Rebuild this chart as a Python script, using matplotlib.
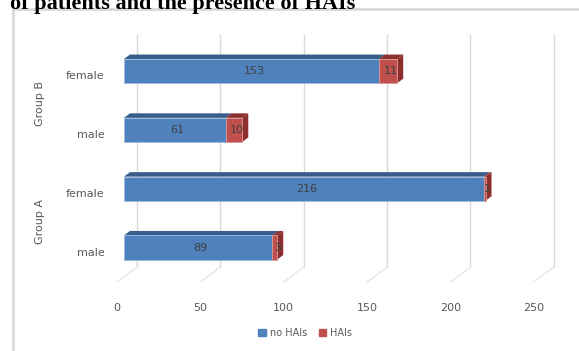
import numpy as np
import matplotlib
matplotlib.use("Agg")
import matplotlib.pyplot as plt
from matplotlib.patches import Polygon, Rectangle, Patch

# data (bottom to top, as drawn)
categories = ["male", "female", "male", "female"]
groups = ["Group A", "Group B"]
no_hai = [89, 216, 61, 153]
hai = [3, 1, 10, 11]
series = ["no HAIs", "HAIs"]
xticks = [0, 50, 100, 150, 200, 250]

BLUE, BLUE_D = "#4f81bd", "#385d8a"
RED, RED_D = "#c0504d", "#8c2f2d"
GRID = "#d9d9d9"
TXT = "#595959"

# fake 3D: depth 0 = front floor edge, 1 = back wall; bars sit at 0.35..0.65
DX, DY = 12.0, 0.255
D_BAR0, D_BAR1 = 0.35, 0.65
H = 0.205
FLOOR, TOP = -0.5, 3.45


def P(v, i, d):
    return (v + (d - D_BAR0) * DX, i + (d - D_BAR0) * DY)


fig = plt.figure(figsize=(5.79, 3.51), dpi=100)
ax = fig.add_axes([0, 0, 1, 1])
ax.set_xlim(-74.4, 273.1)
ax.set_ylim(-1.760, 4.209)
ax.axis("off")

# back wall gridlines + floor diagonals
for t in xticks:
    x0, y0 = P(t, FLOOR, 1)
    x1, y1 = P(t, TOP, 1)
    ax.plot([x0, x1], [y0, y1], color=GRID, lw=1, zorder=1)
    xa, ya = P(t, FLOOR, 0)
    ax.plot([xa, x0], [ya, y0], color="#e6e6e6", lw=1, zorder=1)
    ax.text(xa, ya - 0.44, str(t), ha="center", va="center",
            fontsize=8, color=TXT)

y = np.arange(len(categories))
ax.barh(y, no_hai, height=2 * H, color=BLUE, edgecolor="#9dbbe0",
        linewidth=0.6, zorder=3, label=series[0])
ax.barh(y, hai, left=no_hai, height=2 * H, color=RED, edgecolor="#d99694",
        linewidth=0.6, zorder=3, label=series[1])

for i, (a, b) in enumerate(zip(no_hai, hai)):
    for x0, x1, c in [(0, a, BLUE_D), (a, a + b, RED_D)]:
        top = [P(x0, i + H, D_BAR0), P(x1, i + H, D_BAR0),
               P(x1, i + H, D_BAR1), P(x0, i + H, D_BAR1)]
        ax.add_patch(Polygon(top, closed=True, fc=c, ec="none", zorder=2.5))
    side = [P(a + b, i - H, D_BAR0), P(a + b, i + H, D_BAR0),
            P(a + b, i + H, D_BAR1), P(a + b, i - H, D_BAR1)]
    ax.add_patch(Polygon(side, closed=True, fc=RED_D, ec="none", zorder=2.5))
    ax.text(a / 2 + 1.5, i, str(a), ha="center", va="center",
            fontsize=8, color="#404040", zorder=5)
    ax.text(a + b / 2 + 1.5, i, str(b), ha="center", va="center",
            fontsize=8, color="#404040", zorder=5)
    ax.text(-11.5, i - 0.09, categories[i], ha="right", va="center",
            fontsize=8, color=TXT)

for g, name in enumerate(groups):
    ax.text(-50.5, 2 * g + 0.45, name, rotation=90,
            ha="center", va="center", fontsize=8, color=TXT)

# chart frame and cropped caption above it
fig.patches.append(Rectangle((12.5 / 579, -0.05), 1.0, 1 - 9 / 351 + 0.05,
                             transform=fig.transFigure, fill=False,
                             ec="#d9d9d9", lw=2))
fig.text(10 / 579, 1 - 9 / 351, "of patients and the presence of HAIs",
         family="Liberation Serif", weight="bold", fontsize=16, va="baseline")

handles = [Patch(color=BLUE), Patch(color=RED)]
fig.legend(handles, series, loc="center", bbox_to_anchor=(0.527, 0.051),
           ncol=2, frameon=False, fontsize=7, handlelength=0.8,
           handleheight=0.8, handletextpad=0.4, columnspacing=1.2,
           labelcolor=TXT)

fig.savefig("out.png", dpi=100, facecolor="white")
